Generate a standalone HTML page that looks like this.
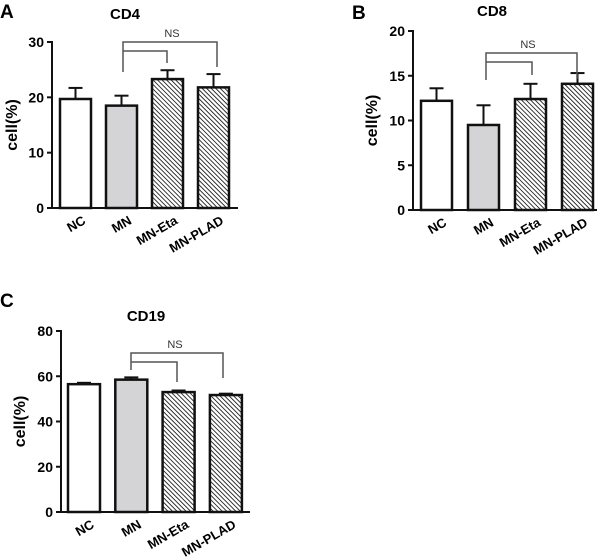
<!DOCTYPE html>
<html><head><meta charset="utf-8"><style>
html,body{margin:0;padding:0;background:#fff;}
svg{display:block;font-family:"Liberation Sans",Arial,sans-serif;}
</style></head><body>
<svg id="fig" width="600" height="559" viewBox="0 0 600 559">
<defs>
<pattern id="hatch" patternUnits="userSpaceOnUse" width="3.2" height="3.2" patternTransform="rotate(-45)">
<rect width="3.2" height="3.2" fill="#fff"/>
<line x1="0" y1="0" x2="0" y2="3.2" stroke="#222" stroke-width="1.8"/>
</pattern>
</defs>
</svg>
<script>
const categories = ["NC","MN","MN-Eta","MN-PLAD"];
const cd4Values = [19.7, 18.5, 23.3, 21.8];
const cd4Errors = [2.0, 1.8, 1.6, 2.4];
const cd4Ticks = [0,10,20,30];
const cd8Values = [12.2, 9.5, 12.4, 14.1];
const cd8Errors = [1.4, 2.2, 1.7, 1.2];
const cd8Ticks = [0,5,10,15,20];
const cd19Values = [56.5, 58.5, 53.0, 51.7];
const cd19Errors = [0.6, 1.0, 0.7, 0.6];
const cd19Ticks = [0,20,40,60,80];

const NS = "http://www.w3.org/2000/svg";
const svg = document.getElementById('fig');
function mk(tag, attrs, parent){const e=document.createElementNS(NS,tag);for(const k in attrs)e.setAttribute(k,attrs[k]);(parent||svg).appendChild(e);return e;}
const fills = ["#fff","#d4d4d6","url(#hatch)","url(#hatch)"];

function panel(cfg, values, errors, ticks){
  const g = mk('g',{});
  
  
  const yMax = ticks[ticks.length-1];
  const y = v => cfg.y0 - (v/yMax)*(cfg.y0-cfg.yTop);
  const x = i => cfg.bx0 + i*cfg.step;
  let t = mk('text',{x:cfg.lx,y:cfg.ly,'font-size':19,'font-weight':'bold'},g); t.textContent=cfg.letter;
   
  t = mk('text',{x:cfg.tx,y:cfg.ty,'font-size':15,'font-weight':'bold','text-anchor':'middle'},g); t.textContent=cfg.title;
   
  t = mk('text',{x:0,y:0,'font-size':16,'font-weight':'bold','text-anchor':'middle',transform:`translate(${cfg.ylx},${(cfg.y0+cfg.yTop)/2}) rotate(-90)`},g); t.textContent='cell(%)';
   
  values.forEach((v,i)=>{
    const bx=x(i), top=y(v), et=y(v+errors[i]), cx=bx+cfg.bw/2;
    const e = mk('line',{x1:cx,y1:top,x2:cx,y2:et,stroke:'#111','stroke-width':2},g);
     
    const c = mk('line',{x1:cx-7,y1:et,x2:cx+7,y2:et,stroke:'#111','stroke-width':2},g);
     
    const r = mk('rect',{x:bx,y:top,width:cfg.bw,height:cfg.y0-top,fill:fills[i],stroke:'#111','stroke-width':2.5},g);
    
    
    const lb = mk('text',{x:0,y:0,'font-size':13,'font-weight':'bold','text-anchor':'end',transform:`translate(${cx+11},${cfg.y0+15}) rotate(-30)`},g);
    lb.textContent=categories[i];
     
  });
  const ya = mk('line',{x1:cfg.ax,y1:cfg.yTop-1,x2:cfg.ax,y2:cfg.y0+1,stroke:'#111','stroke-width':2},g);
   
  const xa = mk('line',{x1:cfg.ax-1,y1:cfg.y0,x2:cfg.axEnd,y2:cfg.y0,stroke:'#111','stroke-width':2},g);
   
  ticks.forEach(tv=>{
    const ty=y(tv);
    const tl = mk('line',{x1:cfg.ax-5,y1:ty,x2:cfg.ax,y2:ty,stroke:'#111','stroke-width':2},g);
     
    const tt = mk('text',{x:cfg.ax-8,y:ty+5,'font-size':14,'font-weight':'bold','text-anchor':'end'},g);
    tt.textContent=tv;
     
  });
  const b=cfg.br;
  const p = mk('path',{d:`M${b.mx},${b.mDown} V${b.top} H${b.px} V${b.pDown} M${b.mx},${b.inner} H${b.ex} V${b.eDown}`,fill:'none',stroke:'#555','stroke-width':1.5},g);
   
  const ns = mk('text',{x:b.nsx,y:b.top-5,'font-size':11,fill:'#333','text-anchor':'middle'},g);
  ns.textContent='NS';
   
}

panel({name:'panel-a-cd4',letter:'A',lx:0,ly:18,title:'CD4',tx:125,ty:19,ylx:17,ax:52,axEnd:238,y0:208,yTop:42,bx0:60,step:46,bw:31,
  br:{mx:123,mDown:72,top:42,px:217,pDown:67,inner:51,ex:167,eDown:63,nsx:172}}, cd4Values, cd4Errors, cd4Ticks);
panel({name:'panel-b-cd8',letter:'B',lx:352,ly:19,title:'CD8',tx:492,ty:16,ylx:377,ax:413,axEnd:597,y0:210,yTop:31,bx0:421,step:47,bw:31,
  br:{mx:486,mDown:80,top:53,px:577,pDown:79,inner:62,ex:532,eDown:75,nsx:528}}, cd8Values, cd8Errors, cd8Ticks);
panel({name:'panel-c-cd19',letter:'C',lx:0,ly:307,title:'CD19',tx:146,ty:321,ylx:25,ax:61,axEnd:250,y0:512,yTop:331,bx0:68,step:47.3,bw:32,
  br:{mx:131,mDown:370,top:353,px:223,pDown:378,inner:362,ex:177,eDown:382,nsx:175}}, cd19Values, cd19Errors, cd19Ticks);
</script>
</body></html>
